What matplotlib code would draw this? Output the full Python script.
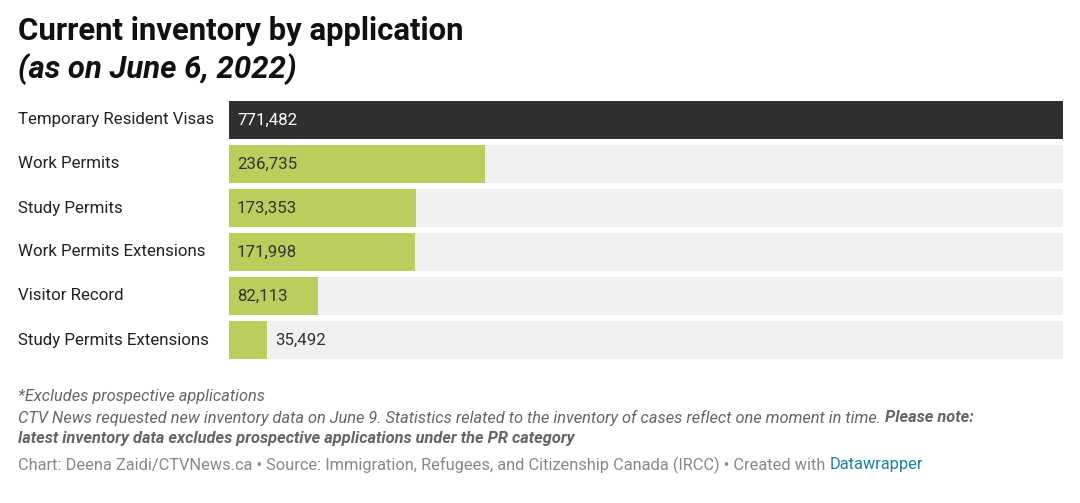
import matplotlib
matplotlib.use("Agg")
import matplotlib.pyplot as plt

categories = ["Temporary Resident Visas", "Work Permits", "Study Permits",
              "Work Permits Extensions", "Visitor Record", "Study Permits Extensions"]
values = [771482, 236735, 173353, 171998, 82113, 35492]
bar_colors = ["#2f2f2f", "#bccd5b", "#bccd5b", "#bccd5b", "#bccd5b", "#bccd5b"]
label_colors = ["#ffffff", "#333333", "#333333", "#333333", "#333333", "#333333"]

plt.rcParams['font.family'] = ['Roboto', 'DejaVu Sans']

W, H = 1080, 503
fig = plt.figure(figsize=(W/100, H/100), dpi=100)
fig.patch.set_facecolor("white")

left, right, top, bottom = 229, 1063, 101, 359
ax = fig.add_axes([left/W, 1-bottom/H, (right-left)/W, (bottom-top)/H])
vmax = max(values)
n = len(categories)
ys = list(range(n))
bh = 38/44
ax.barh(ys, [vmax]*n, height=bh, color="#f0f0f0", zorder=1)
ax.barh(ys, values, height=bh, color=bar_colors, zorder=2)
ax.set_xlim(0, vmax)
ax.set_ylim(n - 1 + bh/2, -bh/2)
ax.axis("off")

off = vmax * 8 / (right - left)
lfs = 12.2
for i, (c, v) in enumerate(zip(categories, values)):
    fig.text(18/W, 1 - (top + 19 + 44*i)/H, c, fontsize=lfs, color="#222222",
             va="center", ha="left")
    label = f"{v:,}"
    if v / vmax > 0.08:
        ax.text(off, i, label, color=label_colors[i], fontsize=lfs,
                va="center", ha="left", zorder=3)
    else:
        ax.text(v + off, i, label, color="#333333", fontsize=lfs,
                va="center", ha="left", zorder=3)

fig.text(18/W, 1-31/H, "Current inventory by application", fontsize=22.4,
         fontweight="bold", color="#111111", va="center", ha="left")
fig.text(18/W, 1-69/H, "(as on June 6, 2022)", fontsize=22.4, fontweight="bold",
         fontstyle="italic", color="#111111", va="center", ha="left")

fs = 11.8
fig.text(18/W, 1-397/H, "*Excludes prospective applications", fontsize=fs,
         fontstyle="italic", color="#666666", va="center", ha="left")
t1 = fig.text(18/W, 1-418/H,
              "CTV News requested new inventory data on June 9. Statistics related to the inventory of cases reflect one moment in time. ",
              fontsize=fs, fontstyle="italic", color="#666666", va="center", ha="left")
fig.canvas.draw()
bb = t1.get_window_extent()
fig.text(bb.x1/W, 1-418/H, "Please note:", fontsize=fs, fontstyle="italic",
         fontweight="bold", color="#666666", va="center", ha="left")
fig.text(18/W, 1-438/H, "latest inventory data excludes prospective applications under the PR category",
         fontsize=fs, fontstyle="italic", fontweight="bold", color="#666666",
         va="center", ha="left")
t2 = fig.text(18/W, 1-465/H,
              "Chart: Deena Zaidi/CTVNews.ca \u2022 Source: Immigration, Refugees, and Citizenship Canada (IRCC) \u2022 Created with ",
              fontsize=fs, color="#888888", va="center", ha="left")
fig.canvas.draw()
bb2 = t2.get_window_extent()
fig.text(bb2.x1/W, 1-465/H, "Datawrapper", fontsize=fs, color="#1d81a2",
         va="center", ha="left")

fig.savefig("out.png", dpi=100)
